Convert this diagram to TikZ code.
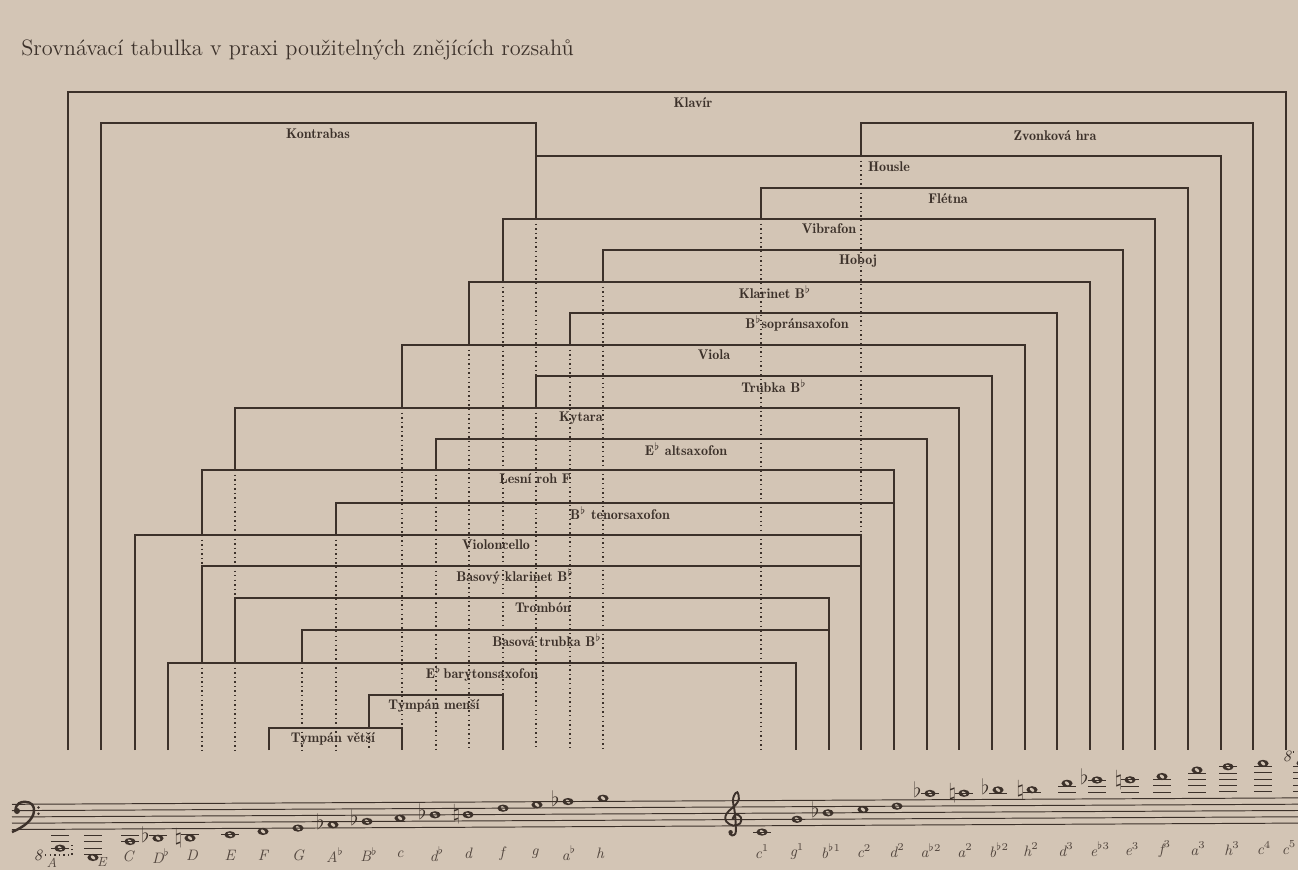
\documentclass[tikz,border=0pt]{standalone}
\usepackage{tikz}

\definecolor{paper}{RGB}{211,197,181}
\definecolor{ink}{RGB}{60,49,42}

\tikzset{
  bracket/.style={draw=ink, line width=0.75pt},
  dots/.style={draw=ink, line width=0.75pt, dash pattern=on 0.8pt off 1.8pt},
  instr/.style={text=ink, inner sep=0pt, font=\fontsize{8}{9}\selectfont\fontseries{b}\selectfont},
  pitch/.style={text=ink!85!paper, inner sep=0pt, font=\fontsize{8.6}{9}\selectfont\itshape},
  acc/.style={text=ink, inner sep=0pt, font=\fontsize{12.5}{12}\selectfont},
  staffline/.style={draw=ink, line width=0.55pt},
}

% staff step p -> y (the staff rises a little to the right)
\newcommand{\noteat}[2]{\pgfmathsetmacro{\noteY}{829.5-0.005*(#1-15)-3.15*(#2)}}
\newcommand{\wnote}[3]{%
  \noteat{#2}{#3}
  \fill[ink] (#2,\noteY) ellipse [x radius=5.6, y radius=3.6];
  \fill[paper, rotate around={50:(#2,\noteY)}] (#2,\noteY) ellipse [x radius=1.5, y radius=2.6];
  \coordinate (#1) at (#2,\noteY);
}
\newcommand{\ledger}[2]{%
  \noteat{#1}{#2}
  \draw[staffline] (#1-9,\noteY) -- (#1+9,\noteY);
}
\newcommand{\flatof}[3]{%
  \noteat{#2}{#3}
  \node[acc] (#1) at (#2-12.5,\noteY-3.4) {$\flat$};
}
\newcommand{\naturalof}[3]{%
  \noteat{#2}{#3}
  \node[acc] (#1) at (#2-11.5,\noteY) {$\natural$};
}

\begin{document}
\begin{tikzpicture}[x=0.02cm, y=-0.02cm]
\useasboundingbox (0,0) rectangle (1298,870);
\fill[paper] (0,0) rectangle (1298,870);

\node[anchor=base west, text=ink, inner sep=0pt, font=\fontsize{12.7}{15}\selectfont] (title) at (21,55) {Srovnávací tabulka v praxi použitelných znějících rozsahů};

% ranges
\draw [bracket] (68,750) -- (68,92) -- (1286,92) -- (1286,750);
\node [instr] (klavir) at (693,103) {Klavír};

\draw [bracket] (101,750) -- (101,123) -- (536,123) -- (536,219);
\node [instr] (kontrabas) at (318,134) {Kontrabas};

\draw [bracket] (861,156) -- (861,123) -- (1253,123) -- (1253,750);
\draw [dots] (861,156) -- (861,535);
\node [instr] (zvonkova) at (1055,136) {Zvonková hra};

\draw [bracket] (536,156) -- (1221,156) -- (1221,750);
\draw [dots] (536,219) -- (536,376);
\node [instr] (housle) at (889,167) {Housle};

\draw [bracket] (761,219) -- (761,188) -- (1188,188) -- (1188,750);
\draw [dots] (761,219) -- (761,750);
\node [instr] (fletna) at (948,199) {Flétna};

\draw [bracket] (503,282) -- (503,219) -- (1155,219) -- (1155,750);
\draw [dots] (503,282) -- (503,695);
\node [instr] (vibrafon) at (829,229) {Vibrafon};

\draw [bracket] (603,282) -- (603,250) -- (1123,250) -- (1123,750);
\draw [dots] (603,282) -- (603,750);
\node [instr] (hoboj) at (858,261) {Hoboj};

\draw [bracket] (469,345) -- (469,282) -- (1090,282) -- (1090,750);
\draw [dots] (469,345) -- (469,750);
\node [instr] (klarinet) at (775,292) {Klarinet B$^\flat$};

\draw [bracket] (570,345) -- (570,313) -- (1057,313) -- (1057,750);
\draw [dots] (570,345) -- (570,750);
\node [instr] (sopran) at (797,323) {B$^\flat$sopránsaxofon};

\draw [bracket] (402,408) -- (402,345) -- (1025,345) -- (1025,750);
\draw [dots] (402,408) -- (402,728);
\node [instr] (viola) at (714,355) {Viola};

\draw [bracket] (536,408) -- (536,376) -- (992,376) -- (992,750);
\draw [dots] (536,408) -- (536,750);
\node [instr] (trubka) at (774,386) {Trubka B$^\flat$};

\draw [bracket] (235,470) -- (235,408) -- (959,408) -- (959,750);
\draw [dots] (235,470) -- (235,598);
\node [instr] (kytara) at (581,418) {Kytara};

\draw [bracket] (436,470) -- (436,439) -- (927,439) -- (927,750);
\draw [dots] (436,470) -- (436,750);
\node [instr] (altsax) at (686,449) {E$^\flat$ altsaxofon};

\draw [bracket] (202,535) -- (202,470) -- (894,470) -- (894,750);
\draw [dots] (202,535) -- (202,566);
\node [instr] (lesniroh) at (535,479) {Lesní roh F};

\draw [bracket] (336,535) -- (336,503) -- (894,503);
\draw [dots] (336,535) -- (336,750);
\node [instr] (tenorsax) at (620,513) {B$^\flat$ tenorsaxofon};

\draw [bracket] (135,750) -- (135,535) -- (861,535) -- (861,750);
\node [instr] (violoncello) at (496,545) {Violoncello};

\draw [bracket] (202,663) -- (202,566) -- (861,566);
\draw [dots] (202,663) -- (202,750);
\node [instr] (basklar) at (515,576) {Basový klarinet B$^\flat$};

\draw [bracket] (235,663) -- (235,598) -- (829,598) -- (829,750);
\draw [dots] (235,663) -- (235,750);
\node [instr] (trombon) at (543,608) {Trombón};

\draw [bracket] (302,663) -- (302,630) -- (829,630);
\draw [dots] (302,663) -- (302,750);
\node [instr] (bastrubka) at (547,640) {Basová trubka B$^\flat$};

\draw [bracket] (168,750) -- (168,663) -- (796,663) -- (796,750);
\node [instr] (baryton) at (482,673) {E$^\flat$\,barytonsaxofon};

\draw [bracket] (369,728) -- (369,695) -- (503,695) -- (503,750);
\draw [dots] (369,728) -- (369,750);
\node [instr] (tympmensi) at (434,706) {Tympán menší};

\draw [bracket] (269,750) -- (269,728) -- (402,728) -- (402,750);
\node [instr] (tympvetsi) at (333,739) {Tympán větší};

% notes, bass part
\wnote{nA}{60}{-6}
\wnote{nE}{93}{-9}
\wnote{nC}{130}{-4}
\wnote{nDes}{158}{-3}
\wnote{nD}{190}{-3}
\wnote{nEE}{230}{-2}
\wnote{nF}{263}{-1}
\wnote{nG}{298}{0}
\wnote{nAs}{333}{1}
\wnote{nB}{367}{2}
\wnote{nc}{400}{3}
\wnote{ndes}{435}{4}
\wnote{nd}{468}{4}
\wnote{nf}{503}{6}
\wnote{ng}{537}{7}
\wnote{nas}{568}{8}
\wnote{nh}{603}{9}

% notes, treble part
\wnote{tc1}{762}{-2}
\wnote{tg1}{797}{2}
\wnote{tb1}{828}{4}
\wnote{tc2}{863}{5}
\wnote{td2}{897}{6}
\wnote{tas2}{930}{10}
\wnote{ta2}{964}{10}
\wnote{tb2}{998}{11}
\wnote{th2}{1032}{11}
\wnote{td3}{1067}{13}
\wnote{tes3}{1097}{14}
\wnote{te3}{1130}{14}
\wnote{tf3}{1162}{15}
\wnote{ta3}{1197}{17}
\wnote{th3}{1228}{18}
\wnote{tc4}{1263}{19}
\wnote{tc5}{1302}{19}

% staff
\foreach \k in {0,...,4}
  \draw[staffline] (12,{829.515-6.3*\k}) -- (1298,{823.085-6.3*\k});

% ledger lines
\foreach \q in {-2,-4,-6} {\ledger{60}{\q}}
\foreach \q in {-2,-4,-6,-8} {\ledger{93}{\q}}
\foreach \q in {-2,-4} {\ledger{130}{\q}}
\foreach \x in {158,190,230} {\ledger{\x}{-2}}
\ledger{762}{-2}
\foreach \x in {930,964,998,1032} {\ledger{\x}{10}}
\foreach \q in {10,12} {\ledger{1067}{\q}}
\foreach \q in {10,12,14} {\ledger{1097}{\q}}
\foreach \q in {10,12,14} {\ledger{1130}{\q}}
\foreach \q in {10,12,14} {\ledger{1162}{\q}}
\foreach \q in {10,12,14,16} {\ledger{1197}{\q}}
\foreach \x in {1228,1263,1302} {\foreach \q in {10,12,...,18} {\ledger{\x}{\q}}}

% accidentals
\flatof{aDes}{158}{-3}
\naturalof{aD}{190}{-3}
\flatof{aAs}{333}{1}
\flatof{aB}{367}{2}
\flatof{ades}{435}{4}
\naturalof{ad}{468}{4}
\flatof{aas}{568}{8}
\flatof{ab1}{828}{4}
\flatof{aas2}{930}{10}
\naturalof{aa2}{964}{10}
\flatof{ab2}{998}{11}
\naturalof{ah2}{1032}{11}
\flatof{aes3}{1097}{14}
\naturalof{ae3}{1130}{14}

% bass clef
\fill[ink] (17,811) circle [radius=3];
\draw[ink, line width=1.4pt] (15.5,810) .. controls (16,803) and (21,801.8) .. (25,801.8) .. controls (31.5,801.8) and (34.5,806) .. (34,811) .. controls (33.5,819.5) and (24,827) .. (12,832);
\fill[ink] (38.5,807.4) circle [radius=1.4];
\fill[ink] (38.5,813.7) circle [radius=1.4];

% treble clef
\draw[ink, line width=1.1pt] plot[smooth, tension=0.6] coordinates {(732.6,819.0) (735.8,814.2) (740.9,817.4) (740.1,823.4) (733.0,825.6) (726.3,821.5) (725.5,816.1) (728.7,811.1) (735.4,805.1) (738.9,798.8) (737.3,792.2) (734.2,795.3) (733.0,801.3) (735.0,813.9) (735.8,827.8) (735.4,833.5) (732.2,835.4) (729.4,833.5)};
\fill[ink] (730.6,832.2) circle [radius=2.2];

% octave marks
\node[pitch, text=ink, font=\fontsize{9}{9}\selectfont\itshape] (oct1) at (38,855) {8};
\draw[dots, line width=0.6pt] (45,855) -- (72,855) -- (72,845);
\node[pitch, text=ink, font=\fontsize{9}{9}\selectfont\itshape] (oct2) at (1287,756) {8};
\draw[dots, line width=0.6pt] (1293,752) -- (1300,752);

% pitch names
\node[pitch, font=\fontsize{7.5}{8}\selectfont\itshape] (lA) at (52,862.5) {A};
\node[pitch, font=\fontsize{7.5}{8}\selectfont\itshape] (lE) at (102,862.5) {E};
\node[pitch] (lC) at (128,856.2) {C};
\node[pitch] (lDes) at (161,856) {D$^\flat$};
\node[pitch] (lD) at (192,855.8) {D};
\node[pitch] (lEE) at (230,855.5) {E};
\node[pitch] (lF) at (263,855.3) {F};
\node[pitch] (lG) at (298,855) {G};
\node[pitch] (lAs) at (335,854.8) {A$^\flat$};
\node[pitch] (lB) at (369,854.5) {B$^\flat$};
\node[pitch] (lc) at (400,854.3) {c};
\node[pitch] (ldes) at (437,854) {d$^\flat$};
\node[pitch] (ld) at (468,853.8) {d};
\node[pitch] (lf) at (502,853.6) {f};
\node[pitch] (lg) at (535,853.4) {g};
\node[pitch] (las) at (569,853.1) {a$^\flat$};
\node[pitch] (lh) at (600,852.9) {h};
\node[pitch] (lc1) at (762,851.8) {c$^1$};
\node[pitch] (lg1) at (797,851.5) {g$^1$};
\node[pitch] (lb1) at (831,851.3) {b$^{\flat1}$};
\node[pitch] (lc2) at (864,851.1) {c$^2$};
\node[pitch] (ld2) at (897,850.8) {d$^2$};
\node[pitch] (las2) at (931,850.6) {a$^{\flat2}$};
\node[pitch] (la2) at (965,850.4) {a$^2$};
\node[pitch] (lb2) at (999,850.1) {b$^{\flat2}$};
\node[pitch] (lh2) at (1031,849.9) {h$^2$};
\node[pitch] (ld3) at (1066,849.7) {d$^3$};
\node[pitch] (les3) at (1100,849.4) {e$^{\flat3}$};
\node[pitch] (le3) at (1132,849.2) {e$^3$};
\node[pitch] (lf3) at (1165,849) {f$^3$};
\node[pitch] (la3) at (1198,848.7) {a$^3$};
\node[pitch] (lh3) at (1232,848.5) {h$^3$};
\node[pitch] (lc4) at (1264,848.2) {c$^4$};
\node[pitch] (lc5) at (1289,848) {c$^5$};
\end{tikzpicture}
\end{document}
